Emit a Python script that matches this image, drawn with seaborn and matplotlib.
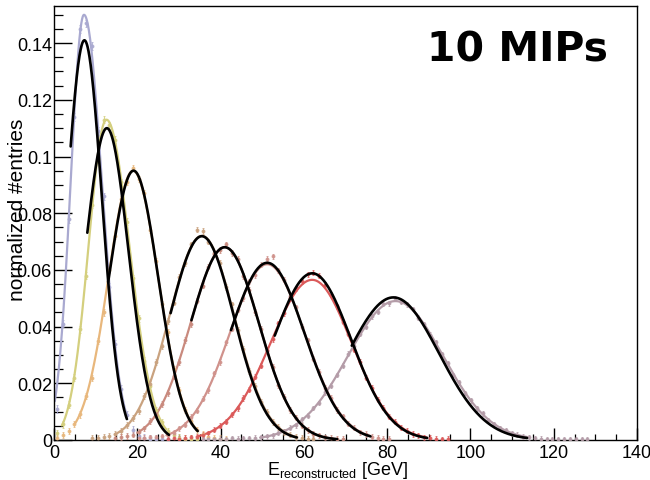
import numpy as np
import pandas as pd
import matplotlib
matplotlib.use("Agg")
import matplotlib.pyplot as plt
from matplotlib.ticker import MultipleLocator
import seaborn as sns

# ---------------- data ----------------
BIN_WIDTH = 1.4
series = ["E1", "E2", "E3", "E4", "E5", "E6", "E7", "E8"]
colors = ["#a9a9d0", "#d4cf7e", "#e8b77c", "#c9a27f", "#c98a7e", "#d0928c", "#db5a5a", "#b49ca8"]

# histogram points (normalized entries), first bin index per series
pt_start = [0, 0, 0, 6, 10, 14, 19, 25]
pt_vals = [
    [0.011, 0.041, 0.078, 0.114, 0.145, 0.147, 0.139, 0.109, 0.086, 0.054, 0.034, 0.018,
     0.0088, 0.0037, 0.0015, 0.0007, 0.0004, 0.0003, 0.0002, 0.0003],
    [0.0025, 0.0055, 0.0125, 0.022, 0.039, 0.058, 0.083, 0.099, 0.113, 0.111, 0.106, 0.091,
     0.077, 0.057, 0.043, 0.028, 0.019, 0.0105, 0.0062, 0.0030, 0.0016, 0.0008, 0.0005,
     0.0004, 0.0003],
    [0.0008, 0.0017, 0.0031, 0.0056, 0.0090, 0.0155, 0.022, 0.035, 0.045, 0.060, 0.072,
     0.085, 0.091, 0.096, 0.092, 0.087, 0.074, 0.063, 0.048, 0.038, 0.025, 0.0175, 0.0105,
     0.0068, 0.0035, 0.0021, 0.0010, 0.0007, 0.0005, 0.0004],
    [0.0006, 0.0008, 0.0012, 0.0014,
     0.0021, 0.0031, 0.0052, 0.0078, 0.0102, 0.0155, 0.0198, 0.0275, 0.0330, 0.0420, 0.0485,
     0.0575, 0.0625, 0.0690, 0.0742, 0.0738, 0.0700, 0.0660, 0.0625, 0.0540, 0.0478, 0.0388,
     0.0322, 0.0243, 0.0190, 0.0133, 0.0099, 0.0064, 0.0046, 0.0028, 0.0019, 0.0010,
     0.0007, 0.0005, 0.0004],
    [0.0008, 0.0011, 0.0014, 0.0019,
     0.0029, 0.0041, 0.0066, 0.0088, 0.0128, 0.0165, 0.0225, 0.0276, 0.0352, 0.0410, 0.0492,
     0.0545, 0.0612, 0.0655, 0.0670, 0.0690, 0.0660, 0.0640, 0.0578, 0.0530, 0.0452, 0.0392,
     0.0314, 0.0258, 0.0193, 0.0153, 0.0107, 0.0079, 0.0051, 0.0036, 0.0022, 0.0016, 0.0009,
     0.0006, 0.0005, 0.0003],
    [0.0006, 0.0007, 0.0009, 0.0010, 0.0013,
     0.0019, 0.0026, 0.0041, 0.0054, 0.0082, 0.0103, 0.0145, 0.0176, 0.0235, 0.0275,
     0.0345, 0.0392, 0.0460, 0.0500, 0.0560, 0.0582, 0.0618, 0.0640, 0.0648, 0.0598,
     0.0565, 0.0508, 0.0468, 0.0400, 0.0352, 0.0286, 0.0240, 0.0185, 0.0149, 0.0106,
     0.0084, 0.0057, 0.0043, 0.0028, 0.0021, 0.0012,
     0.0008, 0.0005, 0.0004],
    [0.0004, 0.0006, 0.0005, 0.0008, 0.0009,
     0.0012, 0.0019, 0.0024, 0.0037, 0.0050, 0.0064, 0.0090, 0.0112, 0.0148, 0.0177,
     0.0224, 0.0262, 0.0318, 0.0355, 0.0412, 0.0448, 0.0500, 0.0535, 0.0560, 0.0585,
     0.0590, 0.0580, 0.0548, 0.0512, 0.0472, 0.0418, 0.0375, 0.0318, 0.0276, 0.0220,
     0.0184, 0.0142, 0.0114, 0.0082, 0.0065, 0.0044, 0.0033, 0.0021, 0.0016, 0.0010,
     0.0007, 0.0005, 0.0003, 0.0004],
    [0.0003, 0.0004, 0.0002, 0.0005, 0.0004, 0.0006, 0.0005, 0.0007, 0.0006, 0.0008,
     0.0009, 0.0013, 0.0016, 0.0025, 0.0031, 0.0044, 0.0052, 0.0073, 0.0086, 0.0113,
     0.0131, 0.0168, 0.0192, 0.0230, 0.0262, 0.0305, 0.0332, 0.0375, 0.0400, 0.0436,
     0.0452, 0.0480, 0.0482, 0.0500, 0.0486, 0.0478, 0.0462, 0.0432, 0.0410, 0.0372,
     0.0345, 0.0302, 0.0270, 0.0230, 0.0203, 0.0166, 0.0140, 0.0112, 0.0094, 0.0070,
     0.0057, 0.0043, 0.0034, 0.0023, 0.0019, 0.0012, 0.0009,
     0.0006, 0.0005, 0.0004, 0.0004, 0.0003, 0.0004, 0.0002, 0.0003, 0.0002, 0.0002],
]
pt_err = [0.0013, 0.0012, 0.0011, 0.0010, 0.0010, 0.0009, 0.0009, 0.0008]

# coloured fit functions (asymmetric gaussian): amplitude, mean, sigma_left, sigma_right, range
col_amp = [0.150, 0.113, 0.095, 0.072, 0.068, 0.062, 0.0565, 0.049]
col_mean = [7.2, 12.6, 19.0, 35.5, 41.0, 51.2, 62.0, 82.0]
col_sl = [3.2, 4.3, 5.9, 7.8, 8.2, 9.0, 10.0, 11.4]
col_sr = [4.3, 5.5, 6.0, 7.8, 8.2, 9.0, 9.5, 11.4]
col_lo = [0.2, 1.9, 5.0, 14.6, 20.0, 27.0, 34.3, 49.5]
col_hi = [17.3, 27.0, 34.5, 58.0, 68.0, 76.0, 89.6, 113.6]

# black gaussian fits: amplitude, mean, sigma, range
fit_amp = [0.141, 0.110, 0.095, 0.0719, 0.068, 0.0625, 0.0588, 0.0503]
fit_mean = [7.3, 12.7, 19.1, 35.5, 41.0, 51.2, 62.0, 81.5]
fit_sig = [4.2, 5.2, 5.9, 7.7, 8.2, 8.9, 9.3, 11.0]
fit_lo = [4.0, 8.0, 13.0, 28.0, 33.0, 42.5, 53.0, 71.5]
fit_hi = [17.5, 27.6, 34.5, 58.3, 68.0, 76.0, 89.6, 113.6]

x_ticks = [0, 20, 40, 60, 80, 100, 120, 140]
y_ticks = [0, 0.02, 0.04, 0.06, 0.08, 0.1, 0.12, 0.14]
y_tick_labels = ["0", "0.02", "0.04", "0.06", "0.08", "0.1", "0.12", "0.14"]

# ---------------- tables ----------------
col_rows = []
fit_rows = []
for i, s in enumerate(series):
    xs = np.linspace(col_lo[i], col_hi[i], 300)
    sig = np.where(xs < col_mean[i], col_sl[i], col_sr[i])
    ys = col_amp[i] * np.exp(-0.5 * ((xs - col_mean[i]) / sig) ** 2)
    col_rows.append(pd.DataFrame({"x": xs, "y": ys, "series": s}))
    xf = np.linspace(fit_lo[i], fit_hi[i], 300)
    yf = fit_amp[i] * np.exp(-0.5 * ((xf - fit_mean[i]) / fit_sig[i]) ** 2)
    fit_rows.append(pd.DataFrame({"x": xf, "y": yf, "series": s}))
col_df = pd.concat(col_rows, ignore_index=True)
fit_df = pd.concat(fit_rows, ignore_index=True)

pt_rows = []
for i, s in enumerate(series):
    v = np.array(pt_vals[i])
    xs = (pt_start[i] + np.arange(len(v)) + 0.5) * BIN_WIDTH
    pt_rows.append(pd.DataFrame({"x": xs, "y": v, "err": pt_err[i], "series": s}))
pt_df = pd.concat(pt_rows, ignore_index=True)

# ---------------- plot ----------------
sns.set_theme(style="white")
plt.rcParams["font.family"] = ["Liberation Sans", "DejaVu Sans"]
plt.rcParams["mathtext.fontset"] = "custom"
plt.rcParams["mathtext.rm"] = "Liberation Sans"
plt.rcParams["mathtext.it"] = "Liberation Sans:italic"

fig = plt.figure(figsize=(6.5, 4.81), dpi=100)
fig.patch.set_facecolor("white")
ax = fig.add_axes([54 / 650, 1 - 441 / 481, (637 - 54) / 650, (441 - 7) / 481])
ax.set_facecolor("white")

pal = dict(zip(series, colors))
sns.lineplot(data=col_df, x="x", y="y", hue="series", palette=pal, estimator=None,
             sort=False, legend=False, lw=1.6, ax=ax, zorder=2)
for i, s in enumerate(series):
    d = pt_df[pt_df.series == s]
    ax.errorbar(d.x, d.y, yerr=d.err, fmt="o", ms=1.8, color=colors[i], mec=colors[i],
                elinewidth=0.8, capsize=1.0, capthick=0.6, alpha=0.85, zorder=3)
sns.lineplot(data=fit_df, x="x", y="y", units="series", estimator=None, sort=False,
             color="black", lw=1.9, legend=False, ax=ax, zorder=4)

ax.set_xlim(0, 140)
ax.set_ylim(0, 0.1531)
ax.set_xticks(x_ticks)
ax.set_xticklabels([str(t) for t in x_ticks])
ax.set_yticks(y_ticks)
ax.set_yticklabels(y_tick_labels)
ax.xaxis.set_minor_locator(MultipleLocator(5))
ax.yaxis.set_minor_locator(MultipleLocator(0.005))
ax.tick_params(axis="x", which="major", direction="in", length=8.6, width=1.0,
               labelsize=13, pad=3, colors="black")
ax.tick_params(axis="x", which="minor", direction="in", length=4.3, width=0.9, colors="black")
ax.tick_params(axis="y", which="major", direction="in", length=13, width=1.0,
               labelsize=13, pad=1.5, colors="black")
ax.tick_params(axis="y", which="minor", direction="in", length=6.5, width=0.9, colors="black")
ax.tick_params(bottom=True, left=True, which="both")
for sp in ax.spines.values():
    sp.set_color("black")
    sp.set_linewidth(1.0)
    sp.set_visible(True)
ax.set_xlabel("")
ax.set_ylabel("")
ax.grid(False)

fig.text(267 / 650, 1 - 475 / 481, r"E$_{\mathrm{reconstructed}}$ [GeV]", fontsize=13,
         ha="left", va="baseline", color="black")
fig.text(18 / 650, 1 - 210 / 481, "normalized #entries", fontsize=15, rotation=90,
         ha="center", va="center", color="black")
fig.text(427 / 650, 1 - 62 / 481, "10 MIPs", fontfamily="DejaVu Sans", fontweight="bold",
         fontsize=29.5, ha="left", va="baseline", color="black")

fig.savefig("out.png", dpi=100, facecolor="white")
